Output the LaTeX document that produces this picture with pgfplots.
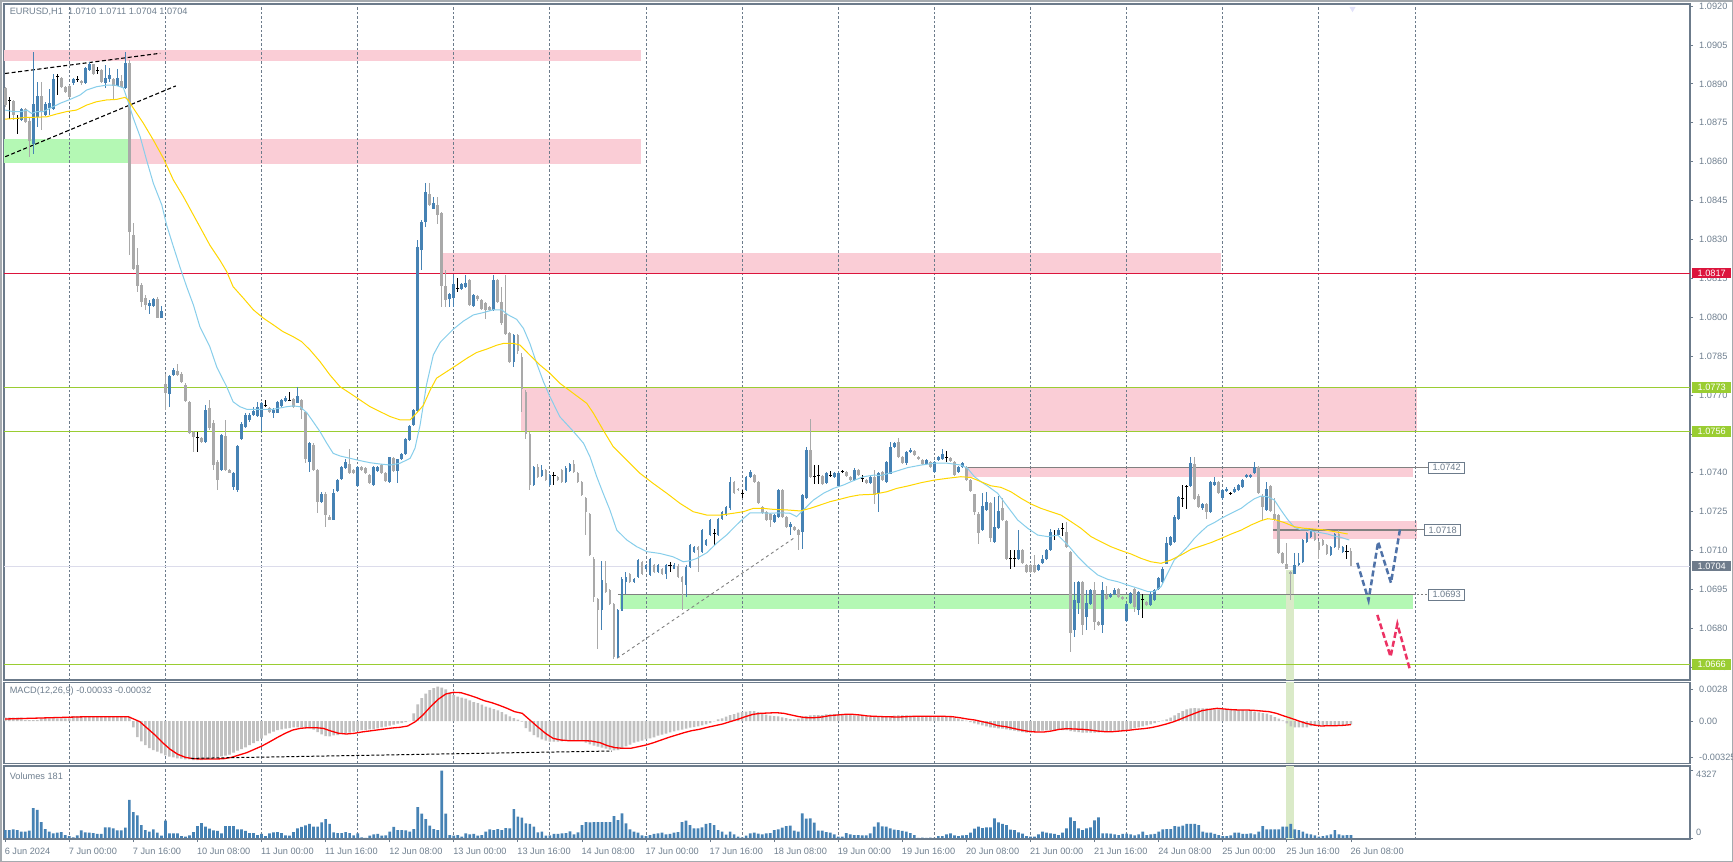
\documentclass[border=0pt]{standalone}
\usepackage{fontspec}
\setmainfont{Liberation Sans}
\usepackage{pgfplots}
\usepackage{pgfplotstable}
\pgfplotsset{compat=1.18}

\definecolor{bull}{RGB}{70,130,180}
\definecolor{bear}{RGB}{169,169,169}
\definecolor{framec}{RGB}{108,123,139}
\definecolor{txtc}{RGB}{112,128,144}
\definecolor{zpink}{RGB}{250,205,214}
\definecolor{zgreen}{RGB}{180,248,180}
\definecolor{vband}{RGB}{218,234,200}
\definecolor{lvl}{RGB}{154,205,50}
\definecolor{crim}{RGB}{220,20,60}
\definecolor{mafast}{RGB}{135,206,235}
\definecolor{maslow}{RGB}{255,215,0}
\definecolor{silv}{RGB}{192,192,192}
\definecolor{bidc}{RGB}{220,220,235}
\definecolor{fcblue}{RGB}{79,114,168}
\definecolor{fcred}{RGB}{236,50,100}
\definecolor{lvgray}{RGB}{128,128,128}
\definecolor{lav}{RGB}{226,226,250}

\newcommand\lbl{\fontsize{9.2bp}{11bp}\selectfont}
\tikzset{gridl/.style={draw=framec, line width=0.8bp, dash pattern=on 2.5bp off 2bp}}

% bar, open, high, low, close, type (1 up / -1 down / 0 doji), volume, macd
\pgfplotstableread{
i o h l c t v m
0 1.08883 1.08889 1.08812 1.08818 -1 515 0.000294
1 1.08840 1.08850 1.08767 1.08835 0 515 0.000294
2 1.08834 1.08838 1.08760 1.08780 -1 558 0.000294
3 1.08773 1.08780 1.08709 1.08768 0 515 0.000294
4 1.08760 1.08806 1.08758 1.08803 1 408 0.000294
5 1.08803 1.08806 1.08750 1.08754 -1 408 0.000088
6 1.08760 1.08767 1.08619 1.08683 -1 472 0.000088
7 1.08670 1.09024 1.08632 1.08821 1 1929 0.000088
8 1.08773 1.08908 1.08735 1.08853 1 1801 0.000088
9 1.08853 1.08908 1.08722 1.08795 -1 1029 0.000236
10 1.08780 1.08831 1.08776 1.08825 1 579 0.000236
11 1.08806 1.08879 1.08780 1.08825 1 408 0.000236
12 1.08806 1.08940 1.08799 1.08921 1 301 0.000236
13 1.08934 1.08940 1.08857 1.08930 0 343 0.000236
14 1.08921 1.08925 1.08885 1.08889 -1 386 0.000236
15 1.08889 1.08893 1.08866 1.08870 -1 193 0.000236
16 1.08892 1.08895 1.08846 1.08850 -1 129 0.000236
17 1.08902 1.08925 1.08898 1.08921 1 43 0.000442
18 1.08920 1.08930 1.08908 1.08917 0 172 0.000442
19 1.08912 1.08915 1.08898 1.08902 -1 493 0.000442
20 1.08902 1.08964 1.08898 1.08960 1 365 0.000442
21 1.08953 1.08984 1.08951 1.08979 1 343 0.000442
22 1.08976 1.08979 1.08937 1.08940 -1 322 0.000442
23 1.08956 1.08966 1.08940 1.08953 0 258 0.000442
24 1.08953 1.08956 1.08904 1.08908 -1 258 0.000442
25 1.08902 1.08973 1.08883 1.08924 1 686 0.000442
26 1.08921 1.08960 1.08908 1.08934 1 686 0.000442
27 1.08921 1.08925 1.08844 1.08892 -1 622 0.000442
28 1.08895 1.08960 1.08892 1.08924 1 493 0.000442
29 1.08912 1.08934 1.08883 1.08889 -1 493 0.000442
30 1.08883 1.09024 1.08879 1.08979 1 665 0.000442
31 1.08982 1.08992 1.08240 1.08330 -1 2444 0.000383
32 1.08320 1.08362 1.08182 1.08189 -1 1672 -0.000559
33 1.08201 1.08266 1.08099 1.08120 -1 1458 -0.001413
34 1.08124 1.08131 1.08041 1.08060 -1 836 -0.001796
35 1.08075 1.08086 1.08028 1.08047 -1 515 -0.00212
36 1.08045 1.08066 1.08012 1.08057 1 408 -0.002385
37 1.08045 1.08077 1.08041 1.08073 1 558 -0.002561
38 1.08070 1.08079 1.07996 1.07999 -1 343 -0.002708
39 1.07999 1.08045 1.07996 1.08025 1 150 -0.002856
40 1.07745 1.07784 1.07642 1.07709 -1 1115 -0.003032
41 1.07704 1.07777 1.07655 1.07773 1 301 -0.00315
42 1.07777 1.07803 1.07774 1.07797 1 301 -0.003209
43 1.07793 1.07822 1.07773 1.07777 -1 301 -0.003297
44 1.07784 1.07790 1.07748 1.07752 -1 129 -0.003327
45 1.07741 1.07745 1.07674 1.07678 -1 86 -0.003386
46 1.07674 1.07678 1.07548 1.07552 -1 172 -0.003386
47 1.07559 1.07563 1.07482 1.07539 -1 386 -0.003444
48 1.07542 1.07559 1.07482 1.07538 0 772 -0.003444
49 1.07536 1.07539 1.07516 1.07520 -1 965 -0.003444
50 1.07520 1.07662 1.07516 1.07642 1 729 -0.003386
51 1.07651 1.07681 1.07568 1.07572 -1 600 -0.003327
52 1.07591 1.07604 1.07411 1.07430 -1 493 -0.003297
53 1.07443 1.07449 1.07334 1.07372 -1 451 -0.003209
54 1.07411 1.07552 1.07407 1.07546 1 301 -0.003121
55 1.07543 1.07604 1.07407 1.07411 -1 772 -0.003062
56 1.07411 1.07417 1.07398 1.07402 -1 772 -0.002973
57 1.07347 1.07405 1.07334 1.07402 1 772 -0.002797
58 1.07334 1.07508 1.07328 1.07504 1 558 -0.00262
59 1.07533 1.07597 1.07529 1.07591 1 558 -0.002473
60 1.07578 1.07630 1.07572 1.07623 1 451 -0.002326
61 1.07604 1.07630 1.07598 1.07623 1 322 -0.00212
62 1.07623 1.07655 1.07619 1.07636 1 322 -0.001943
63 1.07619 1.07674 1.07617 1.07655 1 193 -0.001766
64 1.07617 1.07674 1.07559 1.07668 1 258 -0.00156
65 1.07663 1.07681 1.07655 1.07660 0 129 -0.001266
66 1.07651 1.07655 1.07632 1.07636 -1 301 -0.001089
67 1.07632 1.07649 1.07610 1.07645 1 365 -0.000942
68 1.07632 1.07678 1.07630 1.07674 1 386 -0.000795
69 1.07658 1.07685 1.07655 1.07681 1 322 -0.000736
70 1.07677 1.07696 1.07674 1.07691 1 172 -0.000677
71 1.07682 1.07713 1.07678 1.07680 0 150 -0.000618
72 1.07684 1.07688 1.07651 1.07655 -1 386 -0.000559
73 1.07671 1.07732 1.07668 1.07696 1 622 -0.000559
74 1.07681 1.07684 1.07610 1.07642 -1 708 -0.000559
75 1.07636 1.07640 1.07437 1.07452 -1 815 -0.000559
76 1.07443 1.07520 1.07404 1.07514 1 901 -0.000648
77 1.07507 1.07514 1.07407 1.07411 -1 729 -0.000765
78 1.07411 1.07417 1.07244 1.07289 -1 729 -0.000972
79 1.07289 1.07327 1.07285 1.07321 1 1008 -0.001178
80 1.07321 1.07327 1.07192 1.07237 -1 1222 -0.001325
81 1.07233 1.07237 1.07218 1.07220 -1 901 -0.001354
82 1.07220 1.07340 1.07218 1.07321 1 365 -0.001266
83 1.07331 1.07376 1.07327 1.07372 1 322 -0.001236
84 1.07379 1.07428 1.07375 1.07424 1 322 -0.001119
85 1.07417 1.07452 1.07414 1.07443 1 386 -0.001089
86 1.07434 1.07491 1.07397 1.07400 -1 322 -0.00103
87 1.07411 1.07415 1.07397 1.07400 -1 172 -0.000942
88 1.07349 1.07428 1.07345 1.07424 1 301 -0.000883
89 1.07424 1.07426 1.07407 1.07411 -1 43 -0.000795
90 1.07421 1.07424 1.07397 1.07400 -1 10 -0.000795
91 1.07391 1.07395 1.07358 1.07362 -1 150 -0.000736
92 1.07353 1.07428 1.07349 1.07424 1 236 -0.000707
93 1.07408 1.07428 1.07404 1.07424 1 258 -0.000648
94 1.07430 1.07434 1.07397 1.07400 -1 150 -0.000559
95 1.07400 1.07404 1.07366 1.07370 -1 172 -0.0005
96 1.07366 1.07463 1.07362 1.07460 1 408 -0.000412
97 1.07460 1.07463 1.07404 1.07408 -1 708 -0.000324
98 1.07408 1.07456 1.07362 1.07452 1 515 -0.000236
99 1.07452 1.07479 1.07449 1.07475 1 515 -0.000177
100 1.07475 1.07537 1.07471 1.07533 1 493 -0.000088
101 1.07526 1.07584 1.07523 1.07580 1 408 0.00001
102 1.07584 1.07646 1.07580 1.07642 1 579 0.000677
103 1.07640 1.08300 1.07636 1.08272 1 1993 0.001472
104 1.08259 1.08375 1.08182 1.08369 1 1565 0.002031
105 1.08369 1.08519 1.08349 1.08484 1 1222 0.002414
106 1.08475 1.08519 1.08429 1.08433 -1 793 0.002738
107 1.08420 1.08465 1.08416 1.08442 1 579 0.002915
108 1.08433 1.08465 1.08362 1.08394 -1 515 0.003032
109 1.08403 1.08407 1.08041 1.08120 -1 4327 0.002944
110 1.08120 1.08182 1.08041 1.08066 -1 1565 0.002797
111 1.08073 1.08096 1.08041 1.08092 1 193 0.002502
112 1.08073 1.08165 1.08041 1.08127 1 150 0.002296
113 1.08113 1.08150 1.08099 1.08110 0 193 0.002149
114 1.08111 1.08135 1.08108 1.08131 1 86 0.002061
115 1.08118 1.08163 1.08114 1.08133 1 301 0.001972
116 1.08144 1.08148 1.08043 1.08047 -1 236 0.001825
117 1.08043 1.08090 1.08041 1.08086 1 258 0.001678
118 1.08082 1.08086 1.08065 1.08069 -1 150 0.00159
119 1.08066 1.08070 1.08030 1.08034 -1 193 0.001443
120 1.08054 1.08058 1.07996 1.08030 -1 408 0.001266
121 1.08041 1.08045 1.08024 1.08028 -1 558 0.001178
122 1.08028 1.08163 1.08024 1.08144 1 515 0.00106
123 1.08144 1.08148 1.08056 1.08060 -1 579 0.000942
124 1.08060 1.08118 1.07973 1.07977 -1 515 0.000795
125 1.08012 1.08163 1.07934 1.07938 -1 643 0.000589
126 1.07941 1.07944 1.07825 1.07829 -1 622 0.000412
127 1.07829 1.07935 1.07810 1.07932 1 1865 0.000265
128 1.07930 1.07935 1.07860 1.07870 -1 1372 0.000118
129 1.07848 1.07861 1.07636 1.07722 -1 1308 -0.000059
130 1.07713 1.07719 1.07533 1.07552 -1 943 -0.000618
131 1.07552 1.07558 1.07334 1.07353 -1 901 -0.000942
132 1.07353 1.07426 1.07349 1.07421 1 729 -0.001236
133 1.07424 1.07436 1.07381 1.07385 -1 365 -0.001443
134 1.07388 1.07430 1.07384 1.07411 1 408 -0.001619
135 1.07411 1.07415 1.07368 1.07372 -1 150 -0.001737
136 1.07353 1.07395 1.07349 1.07391 1 172 -0.001825
137 1.07393 1.07404 1.07353 1.07390 0 258 -0.001825
138 1.07385 1.07389 1.07368 1.07372 -1 258 -0.001825
139 1.07411 1.07415 1.07362 1.07366 -1 301 -0.001796
140 1.07366 1.07425 1.07362 1.07421 1 322 -0.001737
141 1.07408 1.07438 1.07404 1.07434 1 429 -0.001737
142 1.07436 1.07452 1.07400 1.07404 -1 236 -0.001737
143 1.07400 1.07404 1.07362 1.07366 -1 365 -0.001708
144 1.07366 1.07370 1.07311 1.07315 -1 836 -0.001737
145 1.07302 1.07306 1.07160 1.07250 -1 1029 -0.001914
146 1.07244 1.07247 1.07079 1.07083 -1 1008 -0.002061
147 1.07070 1.07074 1.06903 1.06922 -1 1029 -0.002178
148 1.06916 1.06920 1.06723 1.06871 -1 1029 -0.002267
149 1.06871 1.07063 1.06794 1.06987 1 1029 -0.002355
150 1.06974 1.07063 1.06938 1.06942 -1 1029 -0.002443
151 1.06948 1.06952 1.06893 1.06897 -1 1029 -0.002532
152 1.06894 1.06898 1.06681 1.06691 -1 1415 -0.002591
153 1.06691 1.06875 1.06687 1.06871 1 1158 -0.002561
154 1.06871 1.06999 1.06867 1.06993 1 1586 -0.002414
155 1.06980 1.07019 1.06935 1.06999 1 943 -0.002237
156 1.07012 1.07016 1.06976 1.06980 -1 558 -0.00209
157 1.06980 1.06997 1.06976 1.06993 1 408 -0.001914
158 1.06999 1.07067 1.06995 1.07063 1 343 -0.001825
159 1.07057 1.07061 1.07008 1.07012 -1 172 -0.001737
160 1.07032 1.07048 1.07028 1.07044 1 129 -0.001619
161 1.07006 1.07074 1.07002 1.07070 1 193 -0.001531
162 1.07044 1.07048 1.07015 1.07019 -1 258 -0.001443
163 1.07019 1.07048 1.07015 1.07044 1 301 -0.001295
164 1.07032 1.07036 1.07008 1.07012 -1 343 -0.001207
165 1.07012 1.07048 1.06993 1.07044 1 236 -0.001119
166 1.07045 1.07057 1.07019 1.07043 0 258 -0.001001
167 1.07032 1.07051 1.07028 1.07044 1 343 -0.000913
168 1.07044 1.07048 1.06995 1.06999 -1 386 -0.000824
169 1.06999 1.07003 1.06871 1.06980 -1 1029 -0.000765
170 1.06967 1.07044 1.06922 1.07038 1 1115 -0.000677
171 1.07038 1.07126 1.07034 1.07122 1 836 -0.000589
172 1.07096 1.07119 1.07092 1.07115 1 622 -0.00053
173 1.07115 1.07119 1.07019 1.07102 -1 622 -0.000471
174 1.07096 1.07183 1.07092 1.07179 1 686 -0.000383
175 1.07122 1.07145 1.07118 1.07141 1 901 -0.000294
176 1.07160 1.07222 1.07156 1.07218 1 965 -0.000177
177 1.07168 1.07186 1.07122 1.07165 0 836 -0.000029
178 1.07160 1.07228 1.07156 1.07224 1 515 0.000147
179 1.07224 1.07254 1.07220 1.07250 1 408 0.000236
180 1.07237 1.07273 1.07233 1.07269 1 215 0.000383
181 1.07263 1.07385 1.07259 1.07366 1 408 0.00053
182 1.07366 1.07370 1.07317 1.07321 -1 236 0.000618
183 1.07340 1.07344 1.07330 1.07334 -1 86 0.000736
184 1.07322 1.07334 1.07302 1.07320 0 43 0.000795
185 1.07334 1.07389 1.07330 1.07385 1 150 0.000824
186 1.07385 1.07413 1.07381 1.07404 1 301 0.000883
187 1.07391 1.07395 1.07362 1.07366 -1 343 0.000883
188 1.07366 1.07370 1.07279 1.07283 -1 279 0.000795
189 1.07269 1.07273 1.07240 1.07244 -1 236 0.000677
190 1.07250 1.07254 1.07214 1.07218 -1 301 0.000559
191 1.07244 1.07247 1.07192 1.07218 -1 322 0.000471
192 1.07212 1.07241 1.07208 1.07237 1 515 0.000442
193 1.07231 1.07340 1.07227 1.07334 1 558 0.000412
194 1.07334 1.07338 1.07227 1.07231 -1 665 0.000324
195 1.07231 1.07235 1.07188 1.07192 -1 772 0.000265
196 1.07192 1.07209 1.07160 1.07205 1 793 0.000177
197 1.07192 1.07196 1.07175 1.07179 -1 472 0.000147
198 1.07179 1.07183 1.07102 1.07160 -1 408 0.000206
199 1.07173 1.07319 1.07109 1.07315 1 1586 0.000353
200 1.07302 1.07500 1.07298 1.07487 1 1243 0.000442
201 1.07487 1.07610 1.07381 1.07385 -1 1265 0.0005
202 1.07389 1.07430 1.07357 1.07386 0 986 0.00053
203 1.07393 1.07430 1.07357 1.07390 0 472 0.00053
204 1.07388 1.07391 1.07353 1.07357 -1 472 0.00053
205 1.07360 1.07404 1.07356 1.07400 1 386 0.000589
206 1.07393 1.07408 1.07385 1.07390 0 343 0.000589
207 1.07385 1.07404 1.07381 1.07400 1 236 0.000618
208 1.07349 1.07404 1.07345 1.07400 1 86 0.000589
209 1.07410 1.07413 1.07400 1.07407 0 86 0.000559
210 1.07404 1.07408 1.07384 1.07388 -1 322 0.00053
211 1.07385 1.07389 1.07368 1.07372 -1 236 0.00053
212 1.07372 1.07421 1.07368 1.07413 1 193 0.0005
213 1.07411 1.07415 1.07387 1.07391 -1 193 0.000471
214 1.07380 1.07391 1.07366 1.07377 0 172 0.000471
215 1.07372 1.07376 1.07358 1.07362 -1 172 0.000412
216 1.07362 1.07389 1.07358 1.07385 1 301 0.000383
217 1.07385 1.07411 1.07279 1.07315 -1 729 0.000383
218 1.07321 1.07404 1.07250 1.07400 1 1008 0.000383
219 1.07404 1.07408 1.07368 1.07372 -1 751 0.000383
220 1.07366 1.07447 1.07362 1.07443 1 729 0.000412
221 1.07398 1.07520 1.07394 1.07500 1 622 0.000442
222 1.07501 1.07520 1.07497 1.07514 1 536 0.000471
223 1.07520 1.07533 1.07458 1.07462 -1 515 0.0005
224 1.07462 1.07466 1.07433 1.07437 -1 451 0.0005
225 1.07437 1.07485 1.07433 1.07481 1 408 0.0005
226 1.07481 1.07494 1.07478 1.07490 1 322 0.000471
227 1.07485 1.07489 1.07465 1.07469 -1 193 0.000442
228 1.07462 1.07466 1.07448 1.07452 -1 5 0.000383
229 1.07452 1.07456 1.07430 1.07434 -1 22 0.000383
230 1.07434 1.07456 1.07430 1.07452 1 10 0.000383
231 1.07443 1.07447 1.07420 1.07424 -1 22 0.000383
232 1.07404 1.07447 1.07400 1.07443 1 10 0.000383
233 1.07449 1.07464 1.07446 1.07460 1 129 0.000383
234 1.07456 1.07494 1.07452 1.07472 1 129 0.000383
235 1.07463 1.07485 1.07443 1.07461 0 236 0.000383
236 1.07460 1.07464 1.07443 1.07447 -1 301 0.000353
237 1.07443 1.07447 1.07388 1.07392 -1 172 0.000265
238 1.07404 1.07428 1.07400 1.07424 1 129 0.000206
239 1.07424 1.07441 1.07420 1.07437 1 172 0.000118
240 1.07424 1.07428 1.07368 1.07372 -1 193 0.000029
241 1.07372 1.07376 1.07327 1.07331 -1 343 -0.000088
242 1.07317 1.07321 1.07237 1.07250 -1 600 -0.000206
243 1.07244 1.07248 1.07128 1.07169 -1 729 -0.000294
244 1.07180 1.07321 1.07176 1.07272 1 643 -0.000383
245 1.07257 1.07327 1.07253 1.07289 1 686 -0.000471
246 1.07285 1.07289 1.07134 1.07151 -1 686 -0.000559
247 1.07134 1.07308 1.07130 1.07192 1 1265 -0.000589
248 1.07186 1.07311 1.07182 1.07253 1 1008 -0.000648
249 1.07263 1.07302 1.07214 1.07218 -1 901 -0.000677
250 1.07215 1.07219 1.07066 1.07070 -1 836 -0.000736
251 1.07071 1.07102 1.07032 1.07069 0 536 -0.000795
252 1.07071 1.07102 1.07039 1.07069 0 515 -0.000854
253 1.07070 1.07182 1.07066 1.07102 1 365 -0.000913
254 1.07102 1.07106 1.07047 1.07051 -1 279 -0.000972
255 1.07044 1.07048 1.07015 1.07019 -1 129 -0.00103
256 1.07044 1.07048 1.07015 1.07019 -1 86 -0.00103
257 1.07044 1.07083 1.07015 1.07019 -1 86 -0.000972
258 1.07025 1.07048 1.07021 1.07044 1 236 -0.000913
259 1.07051 1.07083 1.07047 1.07070 1 408 -0.000854
260 1.07070 1.07106 1.07066 1.07102 1 343 -0.000824
261 1.07102 1.07186 1.07098 1.07173 1 301 -0.000795
262 1.07161 1.07180 1.07141 1.07159 0 258 -0.000795
263 1.07160 1.07190 1.07156 1.07180 1 193 -0.000795
264 1.07187 1.07205 1.07154 1.07185 0 343 -0.000795
265 1.07173 1.07212 1.07111 1.07115 -1 622 -0.000795
266 1.07096 1.07100 1.06710 1.06781 -1 1329 -0.000883
267 1.06794 1.06980 1.06768 1.06909 1 1093 -0.000942
268 1.06897 1.06984 1.06858 1.06980 1 622 -0.000972
269 1.06980 1.06984 1.06775 1.06813 -1 515 -0.00103
270 1.06845 1.06948 1.06794 1.06897 1 622 -0.00103
271 1.06897 1.06952 1.06893 1.06948 1 686 -0.00103
272 1.06948 1.06980 1.06794 1.06826 -1 1136 -0.00103
273 1.06826 1.06830 1.06809 1.06813 -1 1329 -0.001001
274 1.06813 1.06980 1.06781 1.06948 1 301 -0.000972
275 1.06929 1.06964 1.06912 1.06916 -1 301 -0.000913
276 1.06920 1.06937 1.06916 1.06933 1 279 -0.000883
277 1.06933 1.06955 1.06929 1.06951 1 236 -0.000854
278 1.06951 1.06955 1.06916 1.06920 -1 193 -0.000854
279 1.06922 1.06926 1.06908 1.06912 -1 258 -0.000824
280 1.06830 1.06898 1.06826 1.06894 1 279 -0.000765
281 1.06897 1.06942 1.06893 1.06938 1 236 -0.000707
282 1.06955 1.06958 1.06865 1.06884 -1 172 -0.000618
283 1.06871 1.06946 1.06852 1.06942 1 236 -0.000559
284 1.06913 1.06935 1.06843 1.06911 0 408 -0.000471
285 1.06903 1.06907 1.06886 1.06890 -1 193 -0.000383
286 1.06890 1.06939 1.06886 1.06935 1 236 -0.000294
287 1.06912 1.06955 1.06908 1.06951 1 258 -0.000177
288 1.06951 1.06997 1.06947 1.06993 1 408 -0.000059
289 1.06980 1.07036 1.06976 1.07032 1 558 0.000029
290 1.07051 1.07154 1.07047 1.07130 1 579 0.000147
291 1.07122 1.07155 1.07118 1.07151 1 579 0.000294
292 1.07134 1.07237 1.07130 1.07233 1 772 0.0005
293 1.07224 1.07312 1.07220 1.07308 1 729 0.000707
294 1.07303 1.07353 1.07269 1.07300 0 793 0.000883
295 1.07350 1.07353 1.07263 1.07348 0 901 0.00103
296 1.07349 1.07462 1.07345 1.07437 1 901 0.001119
297 1.07437 1.07462 1.07298 1.07302 -1 901 0.001148
298 1.07314 1.07318 1.07265 1.07269 -1 836 0.001119
299 1.07263 1.07286 1.07259 1.07282 1 408 0.001119
300 1.07282 1.07286 1.07224 1.07250 -1 343 0.001119
301 1.07250 1.07370 1.07246 1.07366 1 343 0.00103
302 1.07353 1.07385 1.07349 1.07366 1 258 0.00103
303 1.07366 1.07370 1.07317 1.07321 -1 193 0.00103
304 1.07302 1.07338 1.07298 1.07334 1 129 0.00103
305 1.07331 1.07344 1.07327 1.07340 1 129 0.00103
306 1.07322 1.07326 1.07316 1.07320 0 172 0.00103
307 1.07327 1.07344 1.07323 1.07340 1 343 0.00103
308 1.07336 1.07357 1.07332 1.07353 1 343 0.000972
309 1.07344 1.07376 1.07340 1.07372 1 258 0.000972
310 1.07382 1.07396 1.07379 1.07392 1 258 0.000913
311 1.07382 1.07396 1.07379 1.07392 1 301 0.000883
312 1.07400 1.07443 1.07396 1.07424 1 236 0.000824
313 1.07424 1.07428 1.07317 1.07321 -1 408 0.000765
314 1.07314 1.07318 1.07218 1.07269 -1 772 0.000707
315 1.07257 1.07366 1.07253 1.07340 1 558 0.000648
316 1.07349 1.07353 1.07250 1.07254 -1 558 0.00053
317 1.07244 1.07302 1.07216 1.07220 -1 558 0.000353
318 1.07237 1.07241 1.07088 1.07092 -1 558 0.000206
319 1.07092 1.07096 1.07047 1.07051 -1 729 0.000059
320 1.07051 1.07130 1.07028 1.07032 -1 729 -0.000206
321 1.07019 1.07023 1.06909 1.07012 -1 901 -0.000471
322 1.07012 1.07092 1.07008 1.07044 1 558 -0.000559
323 1.07044 1.07092 1.07040 1.07053 1 515 -0.000559
324 1.07057 1.07145 1.07053 1.07141 1 408 -0.000559
325 1.07134 1.07171 1.07130 1.07167 1 279 -0.000559
326 1.07154 1.07186 1.07150 1.07180 1 236 -0.000442
327 1.07169 1.07173 1.07137 1.07141 -1 172 -0.000412
328 1.07134 1.07138 1.07070 1.07102 -1 86 -0.000383
329 1.07141 1.07145 1.07118 1.07122 -1 129 -0.000383
330 1.07122 1.07126 1.07085 1.07089 -1 172 -0.000353
331 1.07083 1.07119 1.07079 1.07115 1 236 -0.000353
332 1.07115 1.07168 1.07111 1.07164 1 515 -0.000353
333 1.07164 1.07180 1.07105 1.07109 -1 236 -0.000353
334 1.07096 1.07119 1.07092 1.07115 1 172 -0.000353
335 1.07101 1.07122 1.07070 1.07098 0 193 -0.000353
336 1.07100 1.07110 1.07040 1.07040 -1 181 -0.00033
}\bars

\pgfplotsset{
  mtaxis/.style={
    scale only axis, width=1686bp, xmin=-0.3, xmax=420.67,
    anchor=north west, clip mode=individual,
    scaled x ticks=false, scaled y ticks=false,
    axis line style={draw=framec, line width=1.2bp},
    tick style={draw=framec, line width=0.8bp},
    tick align=outside, major tick length=3bp,
    ytick pos=right, yticklabel pos=right,
    yticklabel style={font=\lbl, text=txtc, anchor=west, inner sep=0pt, xshift=6bp},
    axis background/.style={fill=white},
  },
  wick/.style={draw=none, no markers, forget plot,
    error bars/y dir=both, error bars/y explicit, error bars/error mark=none,
    error bars/error bar style={line width=1bp, draw=#1}},
  body/.style={draw=none, no markers, forget plot,
    error bars/y dir=both, error bars/y explicit, error bars/error mark=none,
    error bars/error bar style={line width=2.7bp, draw=#1}},
}

\begin{document}
\begin{tikzpicture}
\path[use as bounding box] (0,0) rectangle (1733bp,-862bp);
\fill[white] (0,0) rectangle (1733bp,-862bp);
\draw[line width=1.5bp, draw={rgb,255:red,165;green,170;blue,175}] (0.75bp,-0.75bp) rectangle (1732.25bp,-861.25bp);

% ---------------- price panel ----------------
\begin{axis}[mtaxis, at={(4bp,-4bp)}, height=676bp,
  ymin=1.06601, ymax=1.09208, xtick=\empty,
  ytick={1.0665,1.068,1.0695,1.071,1.0725,1.074,1.0755,1.077,1.0785,1.08,1.0815,1.083,1.0845,1.086,1.0875,1.089,1.0905,1.092},
  yticklabels={1.0665,1.0680,1.0695,1.0710,1.0725,1.0740,1.0755,1.0770,1.0785,1.0800,1.0815,1.0830,1.0845,1.0860,1.0875,1.0890,1.0905,1.0920},
]
% zones
\fill[zpink] (axis cs:-0.3,1.08989) rectangle (axis cs:158.7,1.09030);
\fill[zgreen] (axis cs:-0.3,1.08594) rectangle (axis cs:30.75,1.08687);
\fill[zpink] (axis cs:30.75,1.08592) rectangle (axis cs:158.7,1.08687);
\fill[zpink] (axis cs:109.1,1.08165) rectangle (axis cs:303.6,1.08246);
\fill[zpink] (axis cs:128.8,1.0756) rectangle (axis cs:352.4,1.0773);
\fill[zpink] (axis cs:240.2,1.07385) rectangle (axis cs:351.6,1.0742);
\fill[zpink] (axis cs:316.5,1.07146) rectangle (axis cs:352.4,1.07214);
\fill[zgreen] (axis cs:153.5,1.06875) rectangle (axis cs:351.6,1.0693);
\fill[vband] (axis cs:319.7,1.06601) rectangle (axis cs:321.8,1.07025);
% day grid
\pgfplotsinvokeforeach{16,40,64,88,112,136,160,184,208,232,256,280,304,328,352}{
  \draw[gridl] (axis cs:#1,1.06601) -- (axis cs:#1,1.09208);
}
% levels
\addplot[crim, line width=1.3bp, forget plot] coordinates {(-0.3,1.0817) (420.67,1.0817)};
\addplot[lvl, line width=1.3bp, forget plot] coordinates {(-0.3,1.0773) (420.67,1.0773)};
\addplot[lvl, line width=1.3bp, forget plot] coordinates {(-0.3,1.0756) (420.67,1.0756)};
\addplot[lvl, line width=1.3bp, forget plot] coordinates {(-0.3,1.0666) (420.67,1.0666)};
\addplot[bidc, line width=1bp, forget plot] coordinates {(-0.3,1.0704) (420.67,1.0704)};
\addplot[lvgray, line width=1.3bp, forget plot] coordinates {(240.2,1.0742) (351.6,1.0742)};
\addplot[lvgray, line width=1.3bp, forget plot] coordinates {(316.5,1.0718) (352.4,1.0718)};
\addplot[lvgray, line width=1.3bp, forget plot] coordinates {(153,1.0693) (351.6,1.0693)};
% trend lines
\addplot[black, line width=1.1bp, dash pattern=on 4bp off 2.5bp, forget plot] coordinates {(0,1.08940) (38.7,1.09018)};
\addplot[black, line width=1.1bp, dash pattern=on 4bp off 2.5bp, forget plot] coordinates {(0,1.08619) (42.6,1.08892)};
\addplot[gray, line width=0.9bp, dash pattern=on 3bp off 3bp, forget plot] coordinates {(152.8,1.06685) (196.8,1.07147)};
% candles
\addplot[wick=bear, restrict expr to domain={\thisrow{t}}{-1.5:-0.5}] table[x=i, y expr=(\thisrow{h}+\thisrow{l})/2, y error expr=(\thisrow{h}-\thisrow{l})/2]{\bars};
\addplot[body=bear, restrict expr to domain={\thisrow{t}}{-1.5:-0.5}] table[x=i, y expr=(\thisrow{o}+\thisrow{c})/2, y error expr=abs(\thisrow{o}-\thisrow{c})/2]{\bars};
\addplot[wick=bull, restrict expr to domain={\thisrow{t}}{0.5:1.5}] table[x=i, y expr=(\thisrow{h}+\thisrow{l})/2, y error expr=(\thisrow{h}-\thisrow{l})/2]{\bars};
\addplot[body=bull, restrict expr to domain={\thisrow{t}}{0.5:1.5}] table[x=i, y expr=(\thisrow{o}+\thisrow{c})/2, y error expr=abs(\thisrow{o}-\thisrow{c})/2]{\bars};
\addplot[wick=black, restrict expr to domain={\thisrow{t}}{-0.5:0.5}] table[x=i, y expr=(\thisrow{h}+\thisrow{l})/2, y error expr=(\thisrow{h}-\thisrow{l})/2]{\bars};
\addplot[black, only marks, mark=-, mark size=1.6bp, mark options={line width=1bp}, restrict expr to domain={\thisrow{t}}{-0.5:0.5}, forget plot] table[x=i, y=c]{\bars};
% moving averages
\addplot[mafast, line width=1bp, forget plot] coordinates {(0,1.08799) (2.0,1.08793) (4.1,1.08793) (5.4,1.08799) (6.6,1.08786) (7.9,1.08793) (9.5,1.08793) (11.2,1.08806) (13.7,1.08825) (16.2,1.08840) (18.7,1.08857) (20.3,1.08876) (22.8,1.08889) (25.3,1.08895) (27.4,1.08895) (29.5,1.08885) (30.7,1.08831) (32.0,1.08767) (33.7,1.08696) (35.3,1.08606) (37.0,1.08516) (39.1,1.08433) (40.3,1.08356) (42.0,1.08272) (43.6,1.08195) (45.3,1.08118) (47.0,1.08047) (48.6,1.07964) (51.1,1.07886) (52.8,1.07809) (55.3,1.07732) (56.9,1.07674) (58.6,1.07655) (60.3,1.07645) (63.6,1.07645) (66.9,1.07645) (70.3,1.07655) (71.9,1.07658) (73.6,1.07655) (75.3,1.07632) (76.9,1.07597) (78.6,1.07559) (80.3,1.07514) (81.9,1.07475) (83.6,1.07465) (86.1,1.07456) (88.6,1.07447) (91.1,1.07439) (93.6,1.07434) (96.1,1.07430) (98.6,1.07437) (101.1,1.07456) (102.3,1.07494) (103.6,1.07585) (105.2,1.07740) (106.9,1.07855) (108.6,1.07903) (110.2,1.07928) (111.9,1.07954) (114.4,1.07985) (116.9,1.08009) (119.4,1.08018) (121.9,1.08029) (124,1.08028) (125.6,1.08009) (127.7,1.07992) (129.4,1.07957) (131.0,1.07899) (132.7,1.07822) (134.4,1.07751) (136.0,1.07694) (138.5,1.07616) (141.9,1.07559) (144.4,1.07514) (146.0,1.07462) (147.7,1.07385) (149.3,1.07321) (151.0,1.07256) (152.7,1.07179) (155.2,1.07141) (157.7,1.07115) (160.2,1.07096) (163.5,1.07089) (166.8,1.07076) (169.3,1.07057) (171.0,1.07061) (172.7,1.07070) (175.2,1.07092) (177.6,1.07128) (180.1,1.07160) (182.6,1.07199) (184.3,1.07224) (186.0,1.07246) (188.5,1.07246) (191.0,1.07244) (193.5,1.07246) (196.0,1.07244) (197.6,1.07231) (199.3,1.07257) (201.8,1.07295) (204.3,1.07321) (206.8,1.07340) (209.3,1.07353) (211.8,1.07370) (214.3,1.07385) (216.8,1.07391) (218.7,1.07390) (222.0,1.07404) (225.3,1.07420) (228.7,1.07430) (232.0,1.07437) (235.3,1.07437) (238.6,1.07430) (240.3,1.07417) (242.0,1.07385) (243.6,1.07366) (245.3,1.07349) (247.8,1.07321) (250.3,1.07269) (252.8,1.07218) (255.3,1.07186) (257.8,1.07160) (260.3,1.07154) (262.8,1.07160) (265.3,1.07122) (267.8,1.07077) (270.3,1.07038) (272.8,1.07006) (275.3,1.06989) (277.8,1.06980) (280.3,1.06967) (282.8,1.06955) (285.3,1.06942) (286.9,1.06942) (288.6,1.06961) (290.2,1.07012) (291.9,1.07064) (293.6,1.07089) (295.2,1.07115) (296.9,1.07147) (298.6,1.07173) (300.2,1.07195) (301.9,1.07208) (303.6,1.07224) (305.2,1.07237) (306.9,1.07250) (308.6,1.07263) (310.2,1.07282) (311.9,1.07300) (313.5,1.07310) (315.2,1.07308) (316.9,1.07295) (318.5,1.07257) (320.2,1.07220) (321.9,1.07190) (323.5,1.07180) (325.2,1.07180) (326.9,1.07173) (328.5,1.07169) (330.2,1.07164) (331.9,1.07156) (333.5,1.07151) (335.6,1.07141)};
\addplot[maslow, line width=1bp, forget plot] coordinates {(0,1.08764) (2.9,1.08767) (5.4,1.08771) (7.0,1.08771) (10.4,1.08773) (12.9,1.08784) (15.3,1.08793) (17.8,1.08799) (20.3,1.08818) (22.8,1.08831) (25.3,1.08838) (27.8,1.08840) (29.9,1.08848) (30.7,1.08838) (32.0,1.08806) (34.5,1.08748) (37.0,1.08683) (39.5,1.08613) (42.0,1.08529) (44.5,1.08465) (47.0,1.08394) (48.6,1.08349) (51.1,1.08278) (53.6,1.08220) (55.3,1.08176) (56.9,1.08118) (59.5,1.08073) (62.0,1.08028) (64.5,1.07996) (67.0,1.07970) (69.4,1.07944) (71.9,1.07925) (74.0,1.07906) (76.1,1.07874) (78.6,1.07829) (81.1,1.07777) (83.6,1.07732) (86.1,1.07707) (88.6,1.07681) (91.1,1.07655) (93.6,1.07636) (96.1,1.07617) (98.6,1.07604) (101.1,1.07604) (102.7,1.07630) (104.4,1.07660) (106.1,1.07719) (107.7,1.07765) (110.2,1.07790) (112.7,1.07815) (115.2,1.07841) (117.7,1.07864) (120.2,1.07877) (122.7,1.07892) (124.4,1.07899) (126.9,1.07899) (128.5,1.07893) (131.0,1.07854) (133.5,1.07816) (136.0,1.07784) (138.5,1.07745) (141.9,1.07706) (145.2,1.07668) (146.9,1.07629) (149.3,1.07565) (151.8,1.07501) (155.2,1.07449) (158.5,1.07398) (161.8,1.07359) (165.2,1.07321) (168.5,1.07282) (171.8,1.07250) (175.2,1.07237) (178.5,1.07237) (181.8,1.07244) (184.3,1.07250) (186.8,1.07263) (189.3,1.07263) (191.8,1.07259) (195.1,1.07257) (198.5,1.07253) (201.0,1.07263) (203.5,1.07276) (206.0,1.07289) (208.4,1.07298) (210.9,1.07308) (213.4,1.07315) (216.8,1.07317) (220.1,1.07327) (222.6,1.07340) (225.3,1.07349) (228.7,1.07362) (232.0,1.07372) (235.3,1.07379) (238.6,1.07385) (241.1,1.07382) (243.6,1.07366) (246.1,1.07350) (248.6,1.07344) (251.1,1.07327) (253.6,1.07302) (256.1,1.07280) (258.6,1.07263) (261.1,1.07250) (263.6,1.07237) (266.1,1.07212) (268.6,1.07186) (271.1,1.07154) (273.6,1.07134) (276.1,1.07115) (278.6,1.07100) (281.1,1.07087) (283.6,1.07070) (286.1,1.07057) (288.6,1.07051) (291.1,1.07064) (293.6,1.07083) (296.1,1.07105) (298.6,1.07118) (301.1,1.07131) (303.6,1.07147) (306.1,1.07164) (308.6,1.07179) (311.1,1.07199) (313.5,1.07215) (315.2,1.07223) (316.9,1.07220) (319.4,1.07208) (321.9,1.07192) (324.4,1.07186) (326.9,1.07183) (329.4,1.07180) (331.9,1.07173) (333.5,1.07169) (335.2,1.07164)};
% forecast zigzags
\addplot[fcblue, line width=2.5bp, dash pattern=on 6bp off 3bp, forget plot] coordinates {(337.6,1.07053) (340.4,1.06909) (342.8,1.07134) (346.0,1.06976) (348.3,1.07186)};
\addplot[fcred, line width=2.5bp, dash pattern=on 6bp off 3bp, forget plot] coordinates {(342.6,1.06852) (345.9,1.06691) (347.6,1.06817) (350.8,1.06637)};
% shift marker
\addplot[lav, only marks, mark=triangle*, mark size=3bp, mark options={rotate=180, fill=lav, draw=lav}, forget plot] coordinates {(336.4,1.09190)};
% price labels inside the chart
\draw[lvgray, line width=1bp] (axis cs:351.6,1.0742) -- (axis cs:355.3,1.0742);
\draw[lvgray, line width=1bp] (axis cs:352.4,1.0718) -- (axis cs:354.3,1.0718);
\draw[lvgray, line width=1bp, dash pattern=on 2bp off 2bp] (axis cs:351.6,1.0693) -- (axis cs:355.3,1.0693);
\node[draw=framec, fill=white, text=framec, font=\lbl, anchor=west, inner sep=0pt, minimum width=36bp, minimum height=11bp, line width=0.8bp] at (axis cs:355.3,1.0742) {1.0742};
\node[draw=framec, fill=white, text=framec, font=\lbl, anchor=west, inner sep=0pt, minimum width=36bp, minimum height=11bp, line width=0.8bp] at (axis cs:354.3,1.0718) {1.0718};
\node[draw=framec, fill=white, text=framec, font=\lbl, anchor=west, inner sep=0pt, minimum width=36bp, minimum height=11bp, line width=0.8bp] at (axis cs:355.3,1.0693) {1.0693};
% right scale boxes
\node[fill=crim, text=white, font=\lbl, anchor=west, inner sep=0pt, minimum width=39bp, minimum height=10.5bp, xshift=2bp] at (axis cs:420.67,1.0817) {1.0817};
\node[fill=lvl, text=white, font=\lbl, anchor=west, inner sep=0pt, minimum width=39bp, minimum height=10.5bp, xshift=2bp] at (axis cs:420.67,1.0773) {1.0773};
\node[fill=lvl, text=white, font=\lbl, anchor=west, inner sep=0pt, minimum width=39bp, minimum height=10.5bp, xshift=2bp] at (axis cs:420.67,1.0756) {1.0756};
\node[fill={rgb,255:red,110;green,123;blue,139}, text=white, font=\lbl, anchor=west, inner sep=0pt, minimum width=39bp, minimum height=10.5bp, xshift=2bp] at (axis cs:420.67,1.0704) {1.0704};
\node[fill=lvl, text=white, font=\lbl, anchor=west, inner sep=0pt, minimum width=39bp, minimum height=10.5bp, xshift=2bp] at (axis cs:420.67,1.0666) {1.0666};
\node[font=\lbl, text=txtc, anchor=west, inner sep=0pt, xshift=5.6bp, yshift=-8.3bp] at (rel axis cs:0,1) {EURUSD,H1\ \ 1.0710 1.0711 1.0704 1.0704};
\end{axis}

% ---------------- MACD panel ----------------
\begin{axis}[mtaxis, at={(4bp,-682.3bp)}, height=81bp,
  ymin=-0.003736, ymax=0.003418, xtick=\empty,
  ytick={-0.00325,0,0.0028}, yticklabels={-0.00325,0.00,0.0028},
]
\fill[vband] (axis cs:319.7,-0.003736) rectangle (axis cs:321.8,0.003418);
\pgfplotsinvokeforeach{16,40,64,88,112,136,160,184,208,232,256,280,304,328,352}{
  \draw[gridl] (axis cs:#1,-0.003736) -- (axis cs:#1,0.003418);
}
\addplot[ybar, bar width=2.6bp, fill=silv, draw=none, forget plot] table[x=i, y=m]{\bars};
\addplot[red, line width=1.3bp, forget plot] coordinates {(0,0.000177) (20.7,0.000383) (30.7,0.000383) (31.7,0.000236) (33.6,-0.000059) (35.5,-0.000648) (37.4,-0.001236) (39.3,-0.001914) (41.2,-0.002502) (43.1,-0.002944) (45,-0.003209) (46.9,-0.003327) (48.9,-0.003356) (52.7,-0.003356) (54.6,-0.003327) (56.5,-0.003209) (58.4,-0.003003) (60.3,-0.002797) (62.2,-0.002502) (64.1,-0.002208) (66.1,-0.001825) (68,-0.001443) (69.9,-0.001089) (71.8,-0.000795) (73.7,-0.000648) (75.6,-0.000589) (77.5,-0.000589) (79.4,-0.000648) (81.3,-0.000883) (83.3,-0.001089) (85.2,-0.001148) (87.1,-0.001089) (89,-0.000972) (90.9,-0.000883) (92.8,-0.000795) (94.7,-0.000707) (96.6,-0.000618) (98.5,-0.000559) (100.5,-0.000442) (102.4,-0.000059) (104.3,0.00053) (106.2,0.001266) (108.1,0.001914) (110,0.002385) (111.9,0.002532) (113.8,0.002502) (115.7,0.002296) (117.7,0.002061) (119.6,0.001796) (121.5,0.001619) (123.4,0.001384) (125.3,0.001119) (127.2,0.000824) (129.1,0.000677) (131,0.000088) (132.9,-0.0005) (134.9,-0.001089) (136.8,-0.001531) (138.7,-0.001678) (140.6,-0.001737) (144.4,-0.001737) (146.3,-0.001766) (148.5,-0.001914) (150.4,-0.002179) (152.3,-0.002355) (154.2,-0.002414) (156.1,-0.002414) (158.1,-0.002267) (160,-0.00212) (161.9,-0.001914) (163.8,-0.001678) (165.7,-0.001443) (167.6,-0.001236) (169.5,-0.00103) (171.4,-0.000854) (173.3,-0.000736) (175.3,-0.000559) (177.2,-0.000412) (179.1,-0.000265) (181,-0.000059) (182.9,0.000147) (184.8,0.000383) (186.7,0.000589) (188.6,0.000677) (190.5,0.000707) (192.5,0.000736) (194.4,0.000677) (196.3,0.00053) (198.2,0.000383) (200.1,0.000294) (202,0.000294) (203.9,0.000353) (205.8,0.000471) (207.7,0.00053) (209.7,0.000589) (211.6,0.000589) (213.5,0.00053) (215.4,0.000442) (217.3,0.000412) (219.2,0.000383) (223,0.000353) (226.8,0.000412) (234.5,0.000412) (236.4,0.000383) (238.3,0.000294) (240.2,0.000177) (242.1,0.000088) (244,-0.000059) (245.9,-0.000206) (247.9,-0.000412) (249.8,-0.0005) (251.7,-0.000648) (253.6,-0.000795) (255.5,-0.000913) (257.4,-0.000972) (259.3,-0.000972) (261.2,-0.000883) (263.2,-0.000736) (265.1,-0.000677) (267,-0.000707) (268.9,-0.000736) (270.8,-0.000795) (272.7,-0.000883) (274.6,-0.000942) (276.5,-0.000942) (278.4,-0.000883) (280.4,-0.000824) (282.3,-0.000736) (284.2,-0.000677) (286.1,-0.000589) (288,-0.000442) (289.9,-0.000265) (291.8,-0.000059) (293.5,0.000177) (295.3,0.000442) (297,0.000677) (298.8,0.000913) (300.7,0.00103) (302.6,0.001119) (304.4,0.00106) (306.3,0.001001) (308.1,0.000972) (310,0.000972) (311.8,0.000942) (313.7,0.000883) (315.6,0.000824) (317.4,0.000677) (319.3,0.000442) (321.1,0.000236) (323,0) (324.8,-0.000206) (326.7,-0.000353) (328.6,-0.000442) (330.4,-0.000412) (332.3,-0.000412) (334.1,-0.000383) (336,-0.00032)};
\addplot[black, line width=1bp, dash pattern=on 3bp off 2bp, forget plot] coordinates {(46.5,-0.0033) (151.5,-0.00265)};
\node[font=\lbl, text=txtc, anchor=west, inner sep=0pt, xshift=5.6bp, yshift=-9.2bp] at (rel axis cs:0,1) {MACD(12,26,9) -0.00033 -0.00032};
\end{axis}

% ---------------- volume panel ----------------
\begin{axis}[mtaxis, at={(4bp,-766bp)}, height=73bp,
  ymin=-64, ymax=4629,
  ytick={0,4327}, yticklabels={,},
  xtick pos=bottom,
  xtick={0,16,32,48,64,80,96,112,128,144,160,176,192,208,224,240,256,272,288,304,320,336},
  xticklabels={6 Jun 2024,7 Jun 00:00,7 Jun 16:00,10 Jun 08:00,11 Jun 00:00,11 Jun 16:00,12 Jun 08:00,13 Jun 00:00,13 Jun 16:00,14 Jun 08:00,17 Jun 00:00,17 Jun 16:00,18 Jun 08:00,19 Jun 00:00,19 Jun 16:00,20 Jun 08:00,21 Jun 00:00,21 Jun 16:00,24 Jun 08:00,25 Jun 00:00,25 Jun 16:00,26 Jun 08:00},
  xticklabel style={font=\lbl, text=txtc, anchor=north west, inner sep=0pt, xshift=-0.6bp, yshift=-5.5bp},
]
\fill[vband] (axis cs:319.7,-64) rectangle (axis cs:321.8,4629);
\pgfplotsinvokeforeach{16,40,64,88,112,136,160,184,208,232,256,280,304,328,352}{
  \draw[gridl] (axis cs:#1,-64) -- (axis cs:#1,4629);
}
\addplot[ybar, bar width=2.7bp, fill=bull, draw=none, forget plot] table[x=i, y=v]{\bars};
\node[font=\lbl, text=txtc, anchor=west, inner sep=0pt, xshift=5.6bp, yshift=-10bp] at (rel axis cs:0,1) {Volumes 181};
\node[font=\lbl, text=txtc, anchor=west, inner sep=0pt, xshift=6bp, yshift=-3.3bp] at (axis cs:420.67,4327) {4327};
\node[font=\lbl, text=txtc, anchor=west, inner sep=0pt, xshift=6bp, yshift=6bp] at (axis cs:420.67,0) {0};
\end{axis}
\end{tikzpicture}
\end{document}
